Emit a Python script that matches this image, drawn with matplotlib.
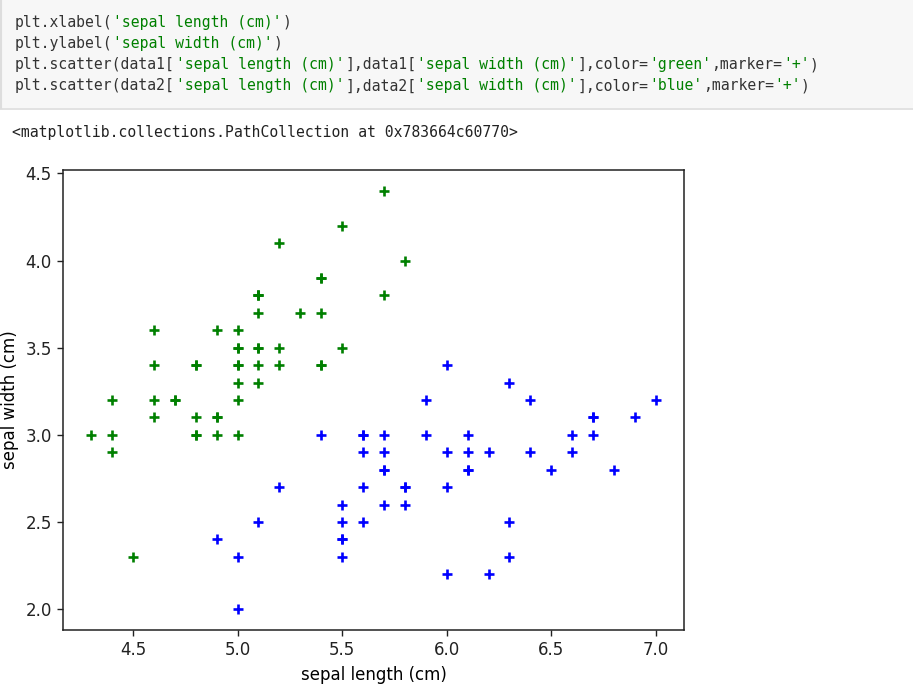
import matplotlib.pyplot as plt
from matplotlib.patches import Rectangle

# iris: setosa (data1) i versicolor (data2)
sl1 = [5.1, 4.9, 4.7, 4.6, 5.0, 5.4, 4.6, 5.0, 4.4, 4.9, 5.4, 4.8, 4.8, 4.3, 5.8, 5.7, 5.4,
       5.1, 5.7, 5.1, 5.4, 5.1, 4.6, 5.1, 4.8, 5.0, 5.0, 5.2, 5.2, 4.7, 4.8, 5.4, 5.2, 5.5,
       4.9, 5.0, 5.5, 4.9, 4.4, 5.1, 5.0, 4.5, 4.4, 5.0, 5.1, 4.8, 5.1, 4.6, 5.3, 5.0]
sw1 = [3.5, 3.0, 3.2, 3.1, 3.6, 3.9, 3.4, 3.4, 2.9, 3.1, 3.7, 3.4, 3.0, 3.0, 4.0, 4.4, 3.9,
       3.5, 3.8, 3.8, 3.4, 3.7, 3.6, 3.3, 3.4, 3.0, 3.4, 3.5, 3.4, 3.2, 3.1, 3.4, 4.1, 4.2,
       3.1, 3.2, 3.5, 3.6, 3.0, 3.4, 3.5, 2.3, 3.2, 3.5, 3.8, 3.0, 3.8, 3.2, 3.7, 3.3]
sl2 = [7.0, 6.4, 6.9, 5.5, 6.5, 5.7, 6.3, 4.9, 6.6, 5.2, 5.0, 5.9, 6.0, 6.1, 5.6, 6.7, 5.6,
       5.8, 6.2, 5.6, 5.9, 6.1, 6.3, 6.1, 6.4, 6.6, 6.8, 6.7, 6.0, 5.7, 5.5, 5.5, 5.8, 6.0,
       5.4, 6.0, 6.7, 6.3, 5.6, 5.5, 5.5, 6.1, 5.8, 5.0, 5.6, 5.7, 5.7, 6.2, 5.1, 5.7]
sw2 = [3.2, 3.2, 3.1, 2.3, 2.8, 2.8, 3.3, 2.4, 2.9, 2.7, 2.0, 3.0, 2.2, 2.9, 2.9, 3.1, 3.0,
       2.7, 2.2, 2.5, 3.2, 2.8, 2.5, 2.8, 2.9, 3.0, 2.8, 3.0, 2.9, 2.6, 2.4, 2.4, 2.7, 2.7,
       3.0, 3.4, 3.1, 2.3, 3.0, 2.5, 2.6, 3.0, 2.6, 2.3, 2.7, 3.0, 2.9, 2.9, 2.5, 2.8]

# linie kodu: (tekst, kolor) fragmenty
code_lines = [
    [("plt.xlabel(", "#333333"), ("'sepal length (cm)'", "#008000"), (")", "#333333")],
    [("plt.ylabel(", "#333333"), ("'sepal width (cm)'", "#008000"), (")", "#333333")],
    [("plt.scatter(data1[", "#333333"), ("'sepal length (cm)'", "#008000"), ("],data1[", "#333333"),
     ("'sepal width (cm)'", "#008000"), ("],color=", "#333333"), ("'green'", "#008000"),
     (",marker=", "#333333"), ("'+'", "#008000"), (")", "#333333")],
    [("plt.scatter(data2[", "#333333"), ("'sepal length (cm)'", "#008000"), ("],data2[", "#333333"),
     ("'sepal width (cm)'", "#008000"), ("],color=", "#333333"), ("'blue'", "#008000"),
     (",marker=", "#333333"), ("'+'", "#008000"), (")", "#333333")],
]
out_text = "<matplotlib.collections.PathCollection at 0x783664c60770>"

W, H = 913, 695
fig = plt.figure(figsize=(W / 100, H / 100), dpi=100)

# komorka z kodem
fig.patches.append(Rectangle((0, 1 - 108 / H), 1, 108 / H, transform=fig.transFigure,
                             facecolor="#f7f7f7", edgecolor="none", zorder=0))
fig.lines.append(plt.Line2D([0, 1], [1 - 108.5 / H] * 2, transform=fig.transFigure,
                            color="#dddddd", lw=1.2))
fig.lines.append(plt.Line2D([0.5 / W] * 2, [1 - 108 / H, 1], transform=fig.transFigure,
                            color="#dddddd", lw=1.5))

char_w = 8.93
fs = 10.6
for i, parts in enumerate(code_lines):
    y = 22 + i * 21.3
    x = 15
    for txt, col in parts:
        fig.text(x / W, 1 - y / H, txt, family="DejaVu Sans Mono", fontsize=fs,
                 color=col, va="center", ha="left")
        x += len(txt) * char_w

fig.text(12 / W, 1 - 133 / H, out_text, family="DejaVu Sans Mono", fontsize=fs,
         color="#222222", va="center", ha="left")

ax = fig.add_axes([63 / W, 65 / H, 621 / W, 460 / H])
ax.scatter(sl1, sw1, color='green', marker='+', s=60, linewidths=1.9)
ax.scatter(sl2, sw2, color='blue', marker='+', s=60, linewidths=1.9)
ax.set_xlabel('sepal length (cm)', fontsize=12, labelpad=5)
ax.set_ylabel('sepal width (cm)', fontsize=12, labelpad=5)
ax.set_xticks([4.5, 5.0, 5.5, 6.0, 6.5, 7.0])
ax.set_yticks([2.0, 2.5, 3.0, 3.5, 4.0, 4.5])
ax.tick_params(labelsize=12, length=4.5, width=1.0, colors="#222222")
for sp in ax.spines.values():
    sp.set_linewidth(1.1)
    sp.set_color("#222222")

plt.savefig('out.png', dpi=100)
